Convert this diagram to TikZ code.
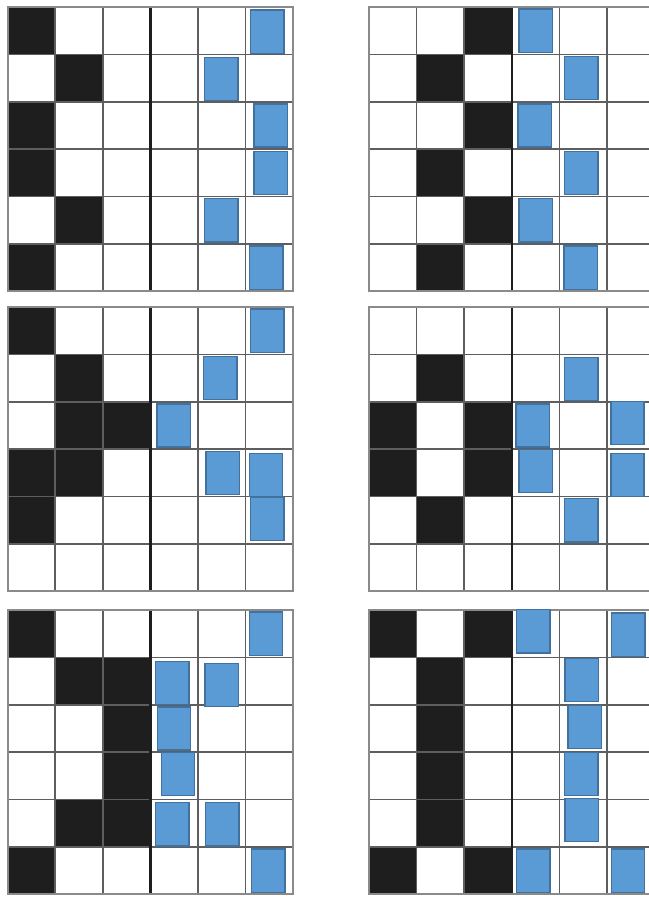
\documentclass[tikz,border=0pt]{standalone}
\usepackage{tikz}
\definecolor{cellblack}{HTML}{1E1E1E}
\definecolor{boxfill}{HTML}{5B9BD5}
\definecolor{boxline}{HTML}{41719C}
\definecolor{gridgray}{HTML}{5E5E5E}
\definecolor{framegray}{HTML}{8A8A8A}
\tikzset{
  blackcell/.style={fill=cellblack},
  gridline/.style={draw=gridgray, line width=1.6pt},
  midline/.style={draw=cellblack, line width=2.6pt},
  frameline/.style={draw=framegray, line width=2pt},
  bluebox/.style={fill=boxfill, draw=boxline, line width=1.4pt}
}
% one 6x6 pattern: origin x, origin y, black cells c/r, blue boxes c/r/dx/dy
\newcommand{\tile}[4]{%
\begin{scope}[shift={(#1pt,-#2pt)}, x=47.6pt, y=-47.4pt]
\foreach \c/\r in {#3} \fill[blackcell] (\c,\r) rectangle ++(1,1);
\foreach \k in {1,2,4,5} {
  \draw[gridline] (\k,0) -- (\k,6);
  \draw[gridline] (0,\k) -- (6,\k);
}
\draw[gridline] (0,3) -- (6,3);
\draw[midline] (3,0) -- (3,6);
\draw[frameline] (0,0) rectangle (6,6);
\foreach \c/\r/\dx/\dy in {#4}
  \draw[bluebox] (\c+0.15+\dx,\r+0.045+\dy) rectangle ++(0.7,0.91);
\end{scope}}

\begin{document}
\begin{tikzpicture}[x=1pt, y=-1pt]
\useasboundingbox (0,0) rectangle (648,897);
% top row
\tile{7.5}{7}{0/0,1/1,0/2,0/3,1/4,0/5}
  {5/0/-0.04/0.02,4/1/-0.01/0.02,5/2/0.03/0,5/3/0.03/0,4/4/-0.01/0,5/5/-0.06/0}
\tile{369}{7}{2/0,1/1,2/2,1/3,2/4,1/5}
  {3/0/0/0,4/1/-0.04/0,3/2/-0.02/0,4/3/-0.04/0,3/4/0/0,4/5/-0.05/0}
% middle row
\tile{7.5}{307}{0/0,1/1,1/2,2/2,0/3,1/3,0/4}
  {5/0/-0.04/0,4/1/-0.03/0,3/2/-0.01/0,4/3/0.02/0,5/3/-0.07/0.04,5/4/-0.04/-0.03}
\tile{369}{307}{1/1,0/2,2/2,0/3,2/3,1/4}
  {4/1/-0.04/0.02,3/2/-0.06/0,5/2/-0.07/-0.05,3/3/0/-0.04,5/3/-0.07/0.04,4/4/-0.04/0}
% bottom row
\tile{7.5}{610}{0/0,1/1,2/1,2/2,2/3,1/4,2/4,0/5}
  {5/0/-0.07/0,3/1/-0.04/0.04,4/1/0/0.08,3/2/0/0,3/3/0.08/-0.04,3/4/-0.04/0.02,4/4/0.01/0.02,5/5/-0.02/0}
\tile{369}{610}{0/0,2/0,1/1,1/2,1/3,1/4,0/5,2/5}
  {3/0/-0.05/-0.05,5/0/-0.05/0.02,4/1/-0.03/-0.02,4/2/0.03/-0.03,4/3/-0.04/-0.04,4/4/-0.03/-0.07,3/5/-0.05/0,5/5/-0.06/0}
\end{tikzpicture}
\end{document}
